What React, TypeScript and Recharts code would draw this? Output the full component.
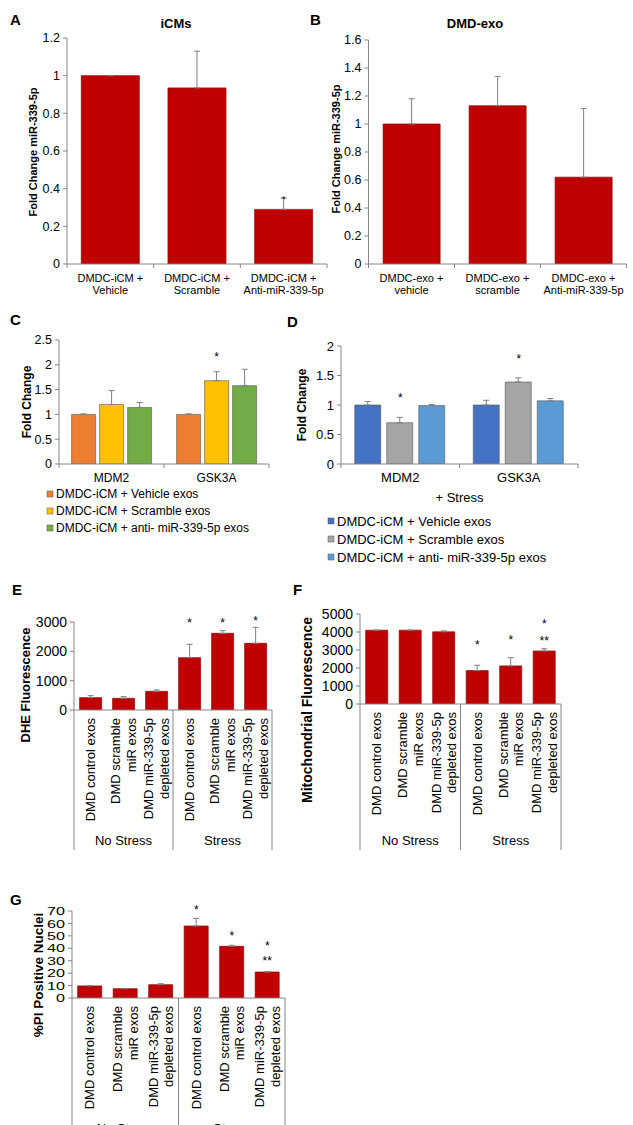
import React from 'react';
import { BarChart, Bar, XAxis, YAxis, ErrorBar, ReferenceDot } from 'recharts';

const FONT = '"Liberation Sans", Arial, Helvetica, sans-serif';
const RED = '#C00000';
const RED_EDGE = '#8E0000';
const AXIS = '#868686';
const ERR = '#7F7F7F';

// A: iCMs
const aLabels = ['DMDC-iCM +\nVehicle', 'DMDC-iCM +\nScramble', 'DMDC-iCM +\nAnti-miR-339-5p'];
const aValues = [1.0, 0.935, 0.29];
const aErrors = [0, 0.195, 0.06];
const aTicks = [0, 0.2, 0.4, 0.6, 0.8, 1, 1.2];

// B: DMD-exo
const bLabels = ['DMDC-exo +\nvehicle', 'DMDC-exo +\nscramble', 'DMDC-exo +\nAnti-miR-339-5p'];
const bValues = [1.0, 1.13, 0.62];
const bErrors = [0.18, 0.21, 0.49];
const bTicks = [0, 0.2, 0.4, 0.6, 0.8, 1, 1.2, 1.4, 1.6];

// C / D: genes
const genes = ['MDM2', 'GSK3A'];
const exoSeries = ['DMDC-iCM + Vehicle exos', 'DMDC-iCM + Scramble exos', 'DMDC-iCM + anti- miR-339-5p exos'];
const cVehicle = [1.0, 1.0];
const cScramble = [1.2, 1.68];
const cAnti = [1.14, 1.58];
const cVehicleErr = [0.01, 0.01];
const cScrambleErr = [0.28, 0.18];
const cAntiErr = [0.1, 0.33];
const cTicks = [0, 0.5, 1, 1.5, 2, 2.5];
const cColors = ['#ED7D31', '#FFC000', '#70AD47'];

const dVehicle = [1.0, 1.0];
const dScramble = [0.7, 1.39];
const dAnti = [0.99, 1.07];
const dVehicleErr = [0.06, 0.08];
const dScrambleErr = [0.09, 0.07];
const dAntiErr = [0.02, 0.04];
const dTicks = [0, 0.5, 1, 1.5, 2];
const dColors = ['#4472C4', '#A5A5A5', '#5B9BD5'];

// E / F / G: stress experiments
const exoLabels = ['DMD control exos', 'DMD scramble\nmiR exos', 'DMD miR-339-5p\ndepleted exos'];
const stressGroups = ['No Stress', 'Stress'];
const stressKeys = stressGroups.flatMap((g) => exoLabels.map((l) => `${g}|${l}`));

const eValues = [420, 398, 636, 1784, 2614, 2273];
const eErrors = [69, 57, 46, 455, 91, 545];
const eTicks = [0, 1000, 2000, 3000];

const fValues = [4099, 4100, 4007, 1857, 2114, 2941];
const fErrors = [5, 5, 55, 293, 460, 129];
const fTicks = [0, 1000, 2000, 3000, 4000, 5000];

const gValues = [9.7, 7.5, 10.7, 57.9, 41.6, 20.9];
const gErrors = [0.3, 0.2, 0.8, 6.2, 0.8, 0.3];
const gTicks = [0, 10, 20, 30, 40, 50, 60, 70];

type Star = { idx: number; y: number; text: string };
const aStars: Star[] = [{ idx: 2, y: 0.355, text: '*' }];
const cStars: Star[] = [{ idx: 1, y: 2.2, text: '*' }];
const dStars: Star[] = [
  { idx: 0, y: 1.17, text: '*' },
  { idx: 1, y: 1.82, text: '*' },
];
const eStars: Star[] = [
  { idx: 3, y: 3068, text: '*' },
  { idx: 4, y: 3068, text: '*' },
  { idx: 5, y: 3137, text: '*' },
];
const fStars: Star[] = [
  { idx: 3, y: 3400, text: '*' },
  { idx: 4, y: 3676, text: '*' },
  { idx: 5, y: 4596, text: '*' },
  { idx: 5, y: 3640, text: '**' },
];
const gStars: Star[] = [
  { idx: 3, y: 72.9, text: '*' },
  { idx: 4, y: 51.7, text: '*' },
  { idx: 5, y: 43.7, text: '*' },
  { idx: 5, y: 31.6, text: '**' },
];

type Geo = {
  left: number; top: number; width: number; height: number;
  plotLeft: number; plotRight: number; plotTop: number; plotBottom: number;
};

const geoA: Geo = { left: 0, top: 0, width: 335, height: 300, plotLeft: 67, plotRight: 327, plotTop: 38, plotBottom: 264 };
const geoB: Geo = { left: 316, top: 0, width: 317, height: 300, plotLeft: 368.5, plotRight: 626.5, plotTop: 40, plotBottom: 264 };
const geoC: Geo = { left: 0, top: 300, width: 280, height: 200, plotLeft: 59, plotRight: 269, plotTop: 340, plotBottom: 464 };
const geoD: Geo = { left: 300, top: 300, width: 286, height: 200, plotLeft: 341, plotRight: 578, plotTop: 346, plotBottom: 464 };
const geoE: Geo = { left: 0, top: 570, width: 282, height: 280, plotLeft: 74, plotRight: 272, plotTop: 622, plotBottom: 710 };
const geoF: Geo = { left: 316, top: 570, width: 255, height: 280, plotLeft: 360, plotRight: 561, plotTop: 614, plotBottom: 704 };
const geoG: Geo = { left: 0, top: 870, width: 295, height: 255, plotLeft: 72, plotRight: 285, plotTop: 911, plotBottom: 998 };

function layoutOf(g: Geo) {
  return {
    margin: { top: g.plotTop - g.top, right: g.left + g.width - g.plotRight, bottom: 0, left: 0 },
    yWidth: g.plotLeft - g.left,
    xHeight: g.top + g.height - g.plotBottom,
  };
}

function starDots(keys: string[], stars: Star[], fs: number) {
  return stars.map((s, i) => (
    <ReferenceDot
      key={`star-${i}`}
      x={keys[s.idx]}
      y={s.y}
      r={0}
      ifOverflow="visible"
      shape={(p: any) => (
        <text x={p.cx} y={p.cy + fs * 0.55} textAnchor="middle" fontSize={fs} fontFamily={FONT} fill="#000">
          {s.text}
        </text>
      )}
    />
  ));
}

// horizontal, multi-line category labels
function centerTick(fs: number, first: number, gap: number) {
  return (p: any) => {
    const lines = String(p.payload.value).split('\n');
    return (
      <g>
        {lines.map((ln, i) => (
          <text key={i} x={p.x} y={p.y + first + i * gap} textAnchor="middle" fontSize={fs} fontFamily={FONT} fill="#000">
            {ln}
          </text>
        ))}
      </g>
    );
  };
}

// vertical labels, read bottom to top, top-aligned under the axis
function rotatedTick(fs: number) {
  return (p: any) => {
    const label = String(p.payload.value).split('|')[1];
    const lines = label.split('\n');
    return (
      <g>
        {lines.map((ln, i) => {
          const lx = p.x + (i - (lines.length - 1) / 2) * fs * 1.22 + fs * 0.36;
          return (
            <text key={i} transform={`translate(${lx},${p.y + 8}) rotate(-90)`} textAnchor="end" fontSize={fs} fontFamily={FONT} fill="#000">
              {ln}
            </text>
          );
        })}
      </g>
    );
  };
}

// G has tightly packed, wide y labels
const wideYTick = (p: any) => (
  <text transform={`translate(${p.x},${p.y}) scale(1.4,1)`} textAnchor="end" dominantBaseline="central" fontSize={11.5} fontFamily={FONT} fill="#000">
    {p.payload.value}
  </text>
);

interface SingleProps {
  geo: Geo;
  keys: string[];
  values: number[];
  errors: number[];
  ticks: number[];
  tickFs: number;
  stars: Star[];
  starFs: number;
  xTick: any;
  yTick?: any;
  gap: string;
}

function SinglePanel({ geo, keys, values, errors, ticks, tickFs, stars, starFs, xTick, yTick, gap }: SingleProps) {
  const l = layoutOf(geo);
  const data = keys.map((k, i) => ({ key: k, value: values[i], err: [0, errors[i]] }));
  return (
    <div style={{ position: 'absolute', left: geo.left, top: geo.top }}>
      <BarChart width={geo.width} height={geo.height} data={data} margin={l.margin} barCategoryGap={gap}>
        <XAxis dataKey="key" height={l.xHeight} stroke={AXIS} tickLine={false} tickSize={0} tickMargin={0} interval={0} tick={xTick} />
        <YAxis
          width={l.yWidth}
          domain={[ticks[0], ticks[ticks.length - 1]]}
          ticks={ticks}
          interval={0}
          allowDataOverflow
          stroke={AXIS}
          tickSize={4}
          tickMargin={3}
          tick={yTick || { fontSize: tickFs, fill: '#000', fontFamily: FONT }}
        />
        <Bar dataKey="value" fill={RED} stroke={RED_EDGE} strokeWidth={0.7} isAnimationActive={false}>
          <ErrorBar dataKey="err" width={3} stroke={ERR} strokeWidth={1} />
        </Bar>
        {starDots(keys, stars, starFs)}
      </BarChart>
    </div>
  );
}

interface GroupProps {
  geo: Geo;
  values: number[][];
  errors: number[][];
  colors: string[];
  ticks: number[];
  tickFs: number;
  labelFs: number;
  stars: Star[];
  gap: string;
  barGap: number;
}

function GroupPanel({ geo, values, errors, colors, ticks, tickFs, labelFs, stars, gap, barGap }: GroupProps) {
  const l = layoutOf(geo);
  const data = genes.map((g, i) => {
    const row: any = { key: g };
    values.forEach((s, j) => {
      row[`s${j}`] = s[i];
      row[`e${j}`] = [0, errors[j][i]];
    });
    return row;
  });
  return (
    <div style={{ position: 'absolute', left: geo.left, top: geo.top }}>
      <BarChart width={geo.width} height={geo.height} data={data} margin={l.margin} barCategoryGap={gap} barGap={barGap}>
        <XAxis dataKey="key" height={l.xHeight} stroke={AXIS} tickLine={false} tickSize={0} tickMargin={0} interval={0} tick={centerTick(labelFs, 18, 14)} />
        <YAxis
          width={l.yWidth}
          domain={[ticks[0], ticks[ticks.length - 1]]}
          ticks={ticks}
          interval={0}
          allowDataOverflow
          stroke={AXIS}
          tickSize={4}
          tickMargin={3}
          tick={{ fontSize: tickFs, fill: '#000', fontFamily: FONT }}
        />
        {values.map((_, j) => (
          <Bar key={j} dataKey={`s${j}`} name={exoSeries[j]} fill={colors[j]} stroke="#555" strokeWidth={0.6} isAnimationActive={false}>
            <ErrorBar dataKey={`e${j}`} width={3} stroke={ERR} strokeWidth={1} />
          </Bar>
        ))}
        {starDots(genes, stars, 12)}
      </BarChart>
    </div>
  );
}

function Rotated({ x, y, fs, text, bold = true }: { x: number; y: number; fs: number; text: string; bold?: boolean }) {
  return (
    <text
      transform={`translate(${x},${y}) rotate(-90)`}
      textAnchor="middle"
      dominantBaseline="central"
      fontSize={fs}
      fontWeight={bold ? 'bold' : 'normal'}
      fontFamily={FONT}
      fill="#000"
    >
      {text}
    </text>
  );
}

function boundaryTicks(g: Geo, n: number) {
  const w = (g.plotRight - g.plotLeft) / n;
  return Array.from({ length: n + 1 }, (_, i) => {
    const x = g.plotLeft + i * w;
    return <line key={`bt-${g.top}-${i}`} x1={x} x2={x} y1={g.plotBottom} y2={g.plotBottom + 4} stroke={AXIS} strokeWidth={1} />;
  });
}

function groupBrackets(g: Geo, bottom: number, labelY: number) {
  const mid = (g.plotLeft + g.plotRight) / 2;
  const xs = [g.plotLeft, mid, g.plotRight];
  return (
    <g>
      {xs.map((x, i) => (
        <line key={i} x1={x} x2={x} y1={g.plotBottom} y2={bottom} stroke={AXIS} strokeWidth={1} />
      ))}
      {stressGroups.map((s, i) => (
        <text key={s} x={(xs[i] + xs[i + 1]) / 2} y={labelY} textAnchor="middle" fontSize={13} fontFamily={FONT} fill="#000">
          {s}
        </text>
      ))}
    </g>
  );
}

function Legend({ x, y0, step, fs, colors }: { x: number; y0: number; step: number; fs: number; colors: string[] }) {
  return (
    <g>
      {exoSeries.map((s, i) => (
        <g key={s}>
          <rect x={x} y={y0 + i * step - 3} width={6} height={6} fill={colors[i]} stroke="#555" strokeWidth={0.5} />
          <text x={x + 9} y={y0 + i * step + fs * 0.36} fontSize={fs} fontFamily={FONT} fill="#000">
            {s}
          </text>
        </g>
      ))}
    </g>
  );
}

function Overlay() {
  const letter = (t: string, x: number, y: number) => (
    <text x={x} y={y} fontSize={15} fontWeight="bold" fontFamily={FONT} fill="#000">
      {t}
    </text>
  );
  return (
    <svg width={633} height={1125} style={{ position: 'absolute', left: 0, top: 0, pointerEvents: 'none' }}>
      {letter('A', 10, 25)}
      {letter('B', 310, 25)}
      {letter('C', 10, 325)}
      {letter('D', 287, 327)}
      {letter('E', 12, 595)}
      {letter('F', 293, 595)}
      {letter('G', 10, 905)}

      <text x={176} y={28} textAnchor="middle" fontSize={13} fontWeight="bold" fontFamily={FONT}>iCMs</text>
      <text x={475} y={28} textAnchor="middle" fontSize={13} fontWeight="bold" fontFamily={FONT}>DMD-exo</text>

      <Rotated x={33} y={152} fs={11} text="Fold Change miR-339-5p" />
      <Rotated x={336} y={149} fs={11} text="Fold Change miR-339-5p" />
      <Rotated x={27} y={402} fs={12} text="Fold Change" />
      <Rotated x={302} y={405} fs={12} text="Fold Change" />
      <Rotated x={25} y={685} fs={13} text="DHE Fluorescence" />
      <Rotated x={307} y={710} fs={14} text="Mitochondrial Fluorescence" />
      <Rotated x={38} y={975} fs={13.5} text="%PI Positive Nuclei" />

      {boundaryTicks(geoA, 3)}
      {boundaryTicks(geoB, 3)}
      {boundaryTicks(geoC, 2)}
      {boundaryTicks(geoD, 2)}

      <text x={459.5} y={502} textAnchor="middle" fontSize={13} fontFamily={FONT}>+ Stress</text>

      <Legend x={47} y0={494} step={17} fs={12} colors={cColors} />
      <Legend x={328} y0={521} step={18} fs={13} colors={dColors} />

      {groupBrackets(geoE, 850, 845)}
      {groupBrackets(geoF, 850, 845)}
      {groupBrackets(geoG, 1125, 1133)}
    </svg>
  );
}

export default function App() {
  return (
    <div style={{ position: 'absolute', left: 0, top: 0, width: 633, height: 1125, background: '#fff', overflow: 'hidden', fontFamily: FONT }}>
      <SinglePanel geo={geoA} keys={aLabels} values={aValues} errors={aErrors} ticks={aTicks} tickFs={12.5} stars={aStars} starFs={9} xTick={centerTick(11, 18, 12)} gap="16.5%" />
      <SinglePanel geo={geoB} keys={bLabels} values={bValues} errors={bErrors} ticks={bTicks} tickFs={12.5} stars={[]} starFs={9} xTick={centerTick(11, 18, 12)} gap="17%" />
      <GroupPanel geo={geoC} values={[cVehicle, cScramble, cAnti]} errors={[cVehicleErr, cScrambleErr, cAntiErr]} colors={cColors} ticks={cTicks} tickFs={12.5} labelFs={12} stars={cStars} gap="12%" barGap={4} />
      <GroupPanel geo={geoD} values={[dVehicle, dScramble, dAnti]} errors={[dVehicleErr, dScrambleErr, dAntiErr]} colors={dColors} ticks={dTicks} tickFs={13} labelFs={13} stars={dStars} gap="11.6%" barGap={6} />
      <SinglePanel geo={geoE} keys={stressKeys} values={eValues} errors={eErrors} ticks={eTicks} tickFs={14} stars={eStars} starFs={12} xTick={rotatedTick(13)} gap="17%" />
      <SinglePanel geo={geoF} keys={stressKeys} values={fValues} errors={fErrors} ticks={fTicks} tickFs={14} stars={fStars} starFs={12} xTick={rotatedTick(13)} gap="17%" />
      <SinglePanel geo={geoG} keys={stressKeys} values={gValues} errors={gErrors} ticks={gTicks} tickFs={15} stars={gStars} starFs={12} xTick={rotatedTick(13)} yTick={wideYTick} gap="16%" />
      <Overlay />
    </div>
  );
}
